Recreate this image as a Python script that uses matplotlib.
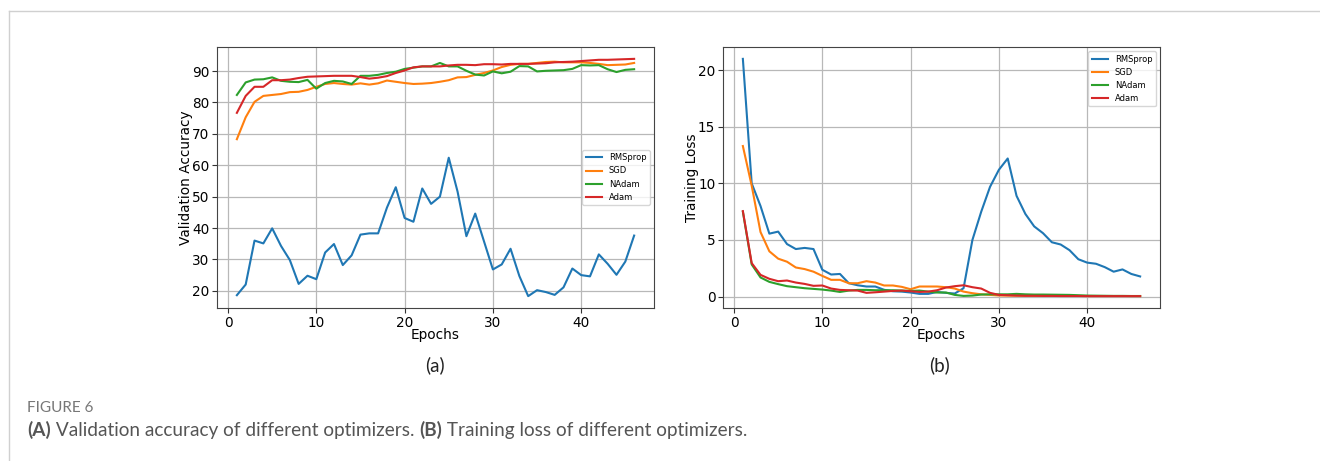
"""Figure 6: validation accuracy / training loss for four optimizers."""
import matplotlib
matplotlib.use('Agg')
import matplotlib.pyplot as plt
from matplotlib.lines import Line2D

epochs = list(range(1, 47))
names = ['RMSprop', 'SGD', 'NAdam', 'Adam']

# (a) validation accuracy
acc_rmsprop = [18.6, 22.0, 36.0, 35.1, 39.9, 34.3, 29.8, 22.2, 24.8, 23.7,
               32.2, 34.9, 28.2, 31.3, 37.9, 38.3, 38.3, 46.5, 53.0, 43.2,
               42.0, 52.6, 47.7, 50.0, 62.4, 51.6, 37.4, 44.6, 35.7, 26.8,
               28.4, 33.4, 24.7, 18.3, 20.2, 19.6, 18.7, 21.1, 27.1, 25.0,
               24.6, 31.6, 28.6, 25.1, 29.3, 37.6]
acc_sgd = [68.3, 75.3, 80.2, 82.1, 82.4, 82.7, 83.3, 83.4, 84.0, 85.0,
           85.9, 86.2, 85.9, 85.7, 86.1, 85.7, 86.1, 87.0, 86.6, 86.2,
           85.9, 86.0, 86.2, 86.6, 87.1, 88.0, 88.1, 88.8, 89.4, 90.2,
           91.3, 92.0, 92.3, 92.3, 92.6, 92.9, 93.0, 92.8, 92.8, 92.8,
           92.6, 92.3, 91.9, 92.0, 92.1, 92.6]
acc_nadam = [82.4, 86.4, 87.3, 87.4, 88.0, 86.9, 86.6, 86.5, 87.2, 84.4,
             86.2, 86.9, 86.7, 85.9, 88.5, 88.5, 88.8, 89.4, 89.8, 90.7,
             91.1, 91.5, 91.5, 92.6, 91.5, 91.5, 90.1, 88.9, 88.6, 89.9,
             89.3, 89.8, 91.6, 91.5, 89.9, 90.1, 90.2, 90.3, 90.7, 91.9,
             91.8, 91.9, 90.6, 89.7, 90.4, 90.6]
acc_adam = [76.7, 82.1, 85.0, 85.0, 87.1, 87.1, 87.3, 87.8, 88.2, 88.3,
            88.4, 88.5, 88.5, 88.5, 88.1, 87.6, 87.9, 88.4, 89.4, 90.2,
            91.2, 91.5, 91.5, 91.5, 91.8, 92.0, 92.0, 91.9, 92.2, 92.2,
            92.1, 92.3, 92.3, 92.3, 92.4, 92.5, 92.8, 92.9, 93.0, 93.2,
            93.4, 93.6, 93.6, 93.7, 93.8, 93.9]

# (b) training loss
loss_rmsprop = [21.0, 10.0, 8.0, 5.56, 5.74, 4.64, 4.2, 4.3, 4.2, 2.37,
                1.95, 2.0, 1.18, 1.0, 0.89, 0.89, 0.6, 0.47, 0.44, 0.36,
                0.24, 0.24, 0.41, 0.33, 0.27, 0.74, 5.0, 7.5, 9.7, 11.2,
                12.2, 8.9, 7.3, 6.2, 5.6, 4.8, 4.6, 4.1, 3.3, 3.0,
                2.9, 2.6, 2.2, 2.4, 2.0, 1.78]
loss_sgd = [13.3, 9.8, 5.7, 4.0, 3.35, 3.08, 2.57, 2.43, 2.2, 1.83,
            1.48, 1.48, 1.18, 1.18, 1.36, 1.24, 0.98, 0.98, 0.86, 0.65,
            0.89, 0.89, 0.89, 0.83, 0.71, 0.44, 0.3, 0.2, 0.15, 0.1,
            0.09, 0.08, 0.08, 0.07, 0.07, 0.07, 0.06, 0.06, 0.06, 0.05,
            0.05, 0.05, 0.05, 0.05, 0.05, 0.05]
loss_nadam = [7.5, 2.84, 1.69, 1.3, 1.1, 0.92, 0.83, 0.74, 0.68, 0.62,
              0.53, 0.41, 0.53, 0.59, 0.59, 0.56, 0.56, 0.56, 0.53, 0.5,
              0.53, 0.44, 0.36, 0.36, 0.15, 0.06, 0.09, 0.18, 0.2, 0.2,
              0.2, 0.24, 0.2, 0.18, 0.18, 0.17, 0.16, 0.15, 0.12, 0.09,
              0.08, 0.07, 0.06, 0.06, 0.05, 0.05]
loss_adam = [7.55, 2.96, 1.92, 1.57, 1.36, 1.42, 1.24, 1.12, 0.95, 0.98,
             0.71, 0.59, 0.56, 0.53, 0.33, 0.38, 0.44, 0.5, 0.53, 0.47,
             0.41, 0.44, 0.56, 0.8, 0.92, 1.0, 0.83, 0.71, 0.33, 0.15,
             0.12, 0.09, 0.07, 0.07, 0.06, 0.06, 0.05, 0.05, 0.05, 0.04,
             0.04, 0.04, 0.04, 0.04, 0.04, 0.04]

W, H = 1320, 461
fig = plt.figure(figsize=(W / 100, H / 100), dpi=100)

# page frame lines (top and left)
fig.add_artist(Line2D([9 / W, 1], [1 - 11 / H, 1 - 11 / H], color='#d0d0d0', lw=1))
fig.add_artist(Line2D([9 / W, 9 / W], [0, 1 - 11 / H], color='#d0d0d0', lw=1))

axa = fig.add_axes([217 / W, 1 - 308 / H, 437 / W, 261 / H])
axb = fig.add_axes([723 / W, 1 - 308 / H, 437 / W, 261 / H])

for y, nm in zip([acc_rmsprop, acc_sgd, acc_nadam, acc_adam], names):
    axa.plot(epochs, y, lw=1.5, label=nm)
for y, nm in zip([loss_rmsprop, loss_sgd, loss_nadam, loss_adam], names):
    axb.plot(epochs, y, lw=1.5, label=nm)

axa.set_ylabel('Validation Accuracy', fontsize=9.8, labelpad=-1)
axb.set_ylabel('Training Loss', fontsize=9.8, labelpad=-1)
axa.set_yticks([20, 30, 40, 50, 60, 70, 80, 90])
axb.set_yticks([0, 5, 10, 15, 20])
for ax in (axa, axb):
    ax.set_xlabel('Epochs', fontsize=9.8, labelpad=-1)
    ax.set_xticks([0, 10, 20, 30, 40])
    ax.grid(True, color='#b8b8b8', lw=0.9)
    ax.tick_params(labelsize=9.8, color='#333333', pad=2)
    for s in ax.spines.values():
        s.set_color('#444444')
axa.legend(loc='center right', fontsize=6)
axb.legend(loc='upper right', fontsize=6)

cap = ['Lato', 'DejaVu Sans']
fig.text(435 / W, 1 - 365 / H, '(a)', ha='center', va='center', fontsize=13.5,
         family=cap, color='#222222')
fig.text(940 / W, 1 - 365 / H, '(b)', ha='center', va='center', fontsize=13.5,
         family=cap, color='#222222')
fig.text(27 / W, 1 - 408 / H, 'FIGURE 6', ha='left', va='center', fontsize=11,
         family=cap, color='#777777')

# caption with bold panel markers, chained left to right
parts = [('(A)', 'bold'), (' Validation accuracy of different optimizers. ', 'normal'),
         ('(B)', 'bold'), (' Training loss of different optimizers.', 'normal')]
prev = fig.text(27 / W, 1 - 430 / H, parts[0][0], ha='left', va='center',
                fontsize=13.7, family=cap, weight=parts[0][1], color='#555555')
for txt, wt in parts[1:]:
    prev = plt.annotate(txt, xy=(1, 0), xycoords=prev, ha='left', va='bottom',
                        fontsize=13.7, family=cap, weight=wt, color='#555555',
                        annotation_clip=False)

fig.savefig('out.png', dpi=100)
